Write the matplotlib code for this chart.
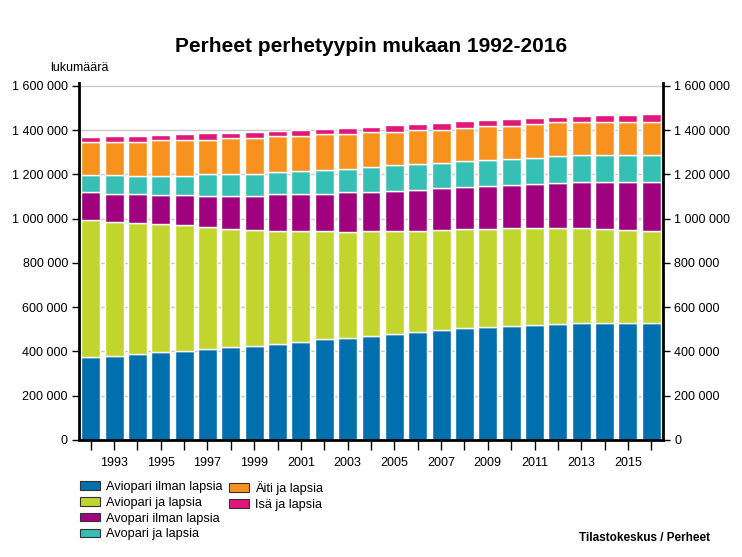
import numpy as np
import matplotlib.pyplot as plt
from matplotlib.patches import Patch
from matplotlib.ticker import FuncFormatter, MultipleLocator

plt.rcParams['font.family'] = ['Liberation Sans', 'DejaVu Sans']

years = list(range(1992, 2017))

# family counts (thousands)
aviopari_ilman = [376, 379, 388, 396, 400, 411, 420, 424, 433, 445, 456, 460, 468,
                  481, 486, 495, 504, 510, 514, 519, 523, 528, 528, 528, 531]
aviopari_ja = [617, 608, 591, 579, 570, 550, 535, 526, 513, 501, 487, 480, 475,
               464, 459, 455, 451, 445, 446, 441, 437, 432, 427, 422, 415]
avopari_ilman = [126, 127, 131, 132, 137, 143, 149, 154, 164, 164, 171, 179, 180,
                 181, 186, 190, 190, 194, 194, 198, 203, 207, 212, 217, 221]
avopari_ja = [77, 82, 84, 87, 87, 96, 99, 99, 102, 107, 107, 107, 112,
              115, 117, 113, 117, 117, 117, 117, 121, 122, 122, 122, 122]
aiti_ja = [153, 153, 155, 160, 164, 158, 160, 164, 160, 159, 160, 159, 155,
           153, 151, 150, 150, 151, 150, 151, 151, 150, 150, 150, 150]
isa_ja = [21, 26, 26, 25, 26, 30, 25, 27, 25, 24, 24, 24, 24,
          29, 28, 29, 29, 28, 29, 28, 25, 26, 30, 30, 36]

series = [
    ('Aviopari ilman lapsia', aviopari_ilman, '#006fae'),
    ('Aviopari ja lapsia', aviopari_ja, '#c2d52e'),
    ('Avopari ilman lapsia', avopari_ilman, '#a0027f'),
    ('Avopari ja lapsia', avopari_ja, '#36bfb5'),
    ('Äiti ja lapsia', aiti_ja, '#f7921e'),
    ('Isä ja lapsia', isa_ja, '#e2177a'),
]

fig = plt.figure(figsize=(7.42, 5.57), dpi=100)
ax = fig.add_axes([79/742, 1-440/557, 584/742, 357/557])

x = np.array(years)
bottom = np.zeros(len(years))
for name, vals, col in series:
    v = np.array(vals) * 1000.
    ax.bar(x, v, 0.81, bottom=bottom, color=col, edgecolor='white',
           linewidth=1, zorder=2)
    bottom += v

ax.set_xlim(1991.5, 2016.5)
ax.set_ylim(0, 1613500)
ax.yaxis.set_major_locator(MultipleLocator(200000))
ax.yaxis.set_major_formatter(FuncFormatter(lambda v, p: f'{int(v):,}'.replace(',', ' ')))
ax.grid(axis='y', color='#c8c8c8', linewidth=1, zorder=0)
ax.set_axisbelow(True)

ax.set_xticks(years)
ax.set_xticklabels([str(y) if y % 2 == 1 else '' for y in years])
ax.tick_params(axis='x', direction='out', length=7, width=1, labelsize=9, pad=5)
ax.tick_params(axis='y', direction='out', length=5, width=1, labelsize=9,
               right=True, labelright=True, pad=3)

for s in ['left', 'right', 'bottom']:
    ax.spines[s].set_linewidth(2)
ax.spines['top'].set_visible(False)

fig.text(0.5, 1-46/557, 'Perheet perhetyypin mukaan 1992-2016', ha='center',
         va='center', fontsize=15, fontweight='bold')
fig.text(50/742, 1-68/557, 'lukumäärä', ha='left', va='center', fontsize=9)
fig.text(710/742, 1-538/557, 'Tilastokeskus / Perheet', ha='right', va='center',
         fontsize=8.5, fontweight='bold')

handles = [Patch(facecolor=c, edgecolor='#333333', linewidth=0.8) for _, _, c in series]
labels = [n for n, _, _ in series]
leg_kw = dict(frameon=False, fontsize=9.2, handlelength=1.6, handleheight=0.65,
              handletextpad=0.4, labelspacing=0.3, borderpad=0, borderaxespad=0,
              loc='upper left')
fig.legend(handles[:4], labels[:4], bbox_to_anchor=(80/742, 1-481/557), **leg_kw)
fig.legend(handles[4:], labels[4:], bbox_to_anchor=(229/742, 1-481/557), **leg_kw)

fig.savefig('out.png', dpi=100)
